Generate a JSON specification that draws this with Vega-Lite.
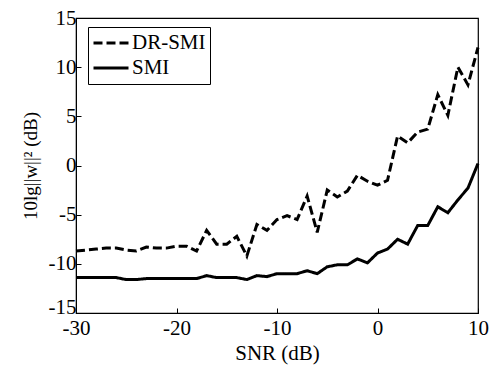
{
  "$schema": "https://vega.github.io/schema/vega-lite/v6.json",
  "width": 402,
  "height": 295,
  "autosize": "none",
  "padding": {"left": 76, "top": 18, "right": 13, "bottom": 55},
  "background": "white",
  "config": {
    "font": "Liberation Serif",
    "axis": {"labelFont": "Liberation Serif", "titleFont": "Liberation Serif"},
    "legend": {"labelFont": "Liberation Serif"},
    "view": {"stroke": "black", "strokeWidth": 1.2}
  },
  "datasets": {
    "dr": [
      {"snr": -30, "v": -8.7}, {"snr": -29, "v": -8.6}, {"snr": -28, "v": -8.5}, {"snr": -27, "v": -8.4},
      {"snr": -26, "v": -8.4}, {"snr": -25, "v": -8.6}, {"snr": -24, "v": -8.7}, {"snr": -23, "v": -8.3},
      {"snr": -22, "v": -8.4}, {"snr": -21, "v": -8.4}, {"snr": -20, "v": -8.2}, {"snr": -19, "v": -8.2},
      {"snr": -18, "v": -8.7}, {"snr": -17, "v": -6.6}, {"snr": -16, "v": -8.0}, {"snr": -15, "v": -8.0},
      {"snr": -14, "v": -7.2}, {"snr": -13, "v": -9.2}, {"snr": -12, "v": -6.0}, {"snr": -11, "v": -6.6},
      {"snr": -10, "v": -5.5}, {"snr": -9, "v": -5.1}, {"snr": -8, "v": -5.5}, {"snr": -7, "v": -3.1},
      {"snr": -6, "v": -6.8}, {"snr": -5, "v": -2.5}, {"snr": -4, "v": -3.2}, {"snr": -3, "v": -2.6},
      {"snr": -2, "v": -1.0}, {"snr": -1, "v": -1.6}, {"snr": 0, "v": -2.0}, {"snr": 1, "v": -1.5},
      {"snr": 2, "v": 3.0}, {"snr": 3, "v": 2.3}, {"snr": 4, "v": 3.4}, {"snr": 5, "v": 3.7},
      {"snr": 6, "v": 7.2}, {"snr": 7, "v": 5.1}, {"snr": 8, "v": 10.0}, {"snr": 9, "v": 8.2},
      {"snr": 10, "v": 12.0}
    ],
    "smi": [
      {"snr": -30, "v": -11.4}, {"snr": -29, "v": -11.4}, {"snr": -28, "v": -11.4}, {"snr": -27, "v": -11.4},
      {"snr": -26, "v": -11.4}, {"snr": -25, "v": -11.6}, {"snr": -24, "v": -11.6}, {"snr": -23, "v": -11.5},
      {"snr": -22, "v": -11.5}, {"snr": -21, "v": -11.5}, {"snr": -20, "v": -11.5}, {"snr": -19, "v": -11.5},
      {"snr": -18, "v": -11.5}, {"snr": -17, "v": -11.2}, {"snr": -16, "v": -11.4}, {"snr": -15, "v": -11.4},
      {"snr": -14, "v": -11.4}, {"snr": -13, "v": -11.6}, {"snr": -12, "v": -11.2}, {"snr": -11, "v": -11.3},
      {"snr": -10, "v": -11.0}, {"snr": -9, "v": -11.0}, {"snr": -8, "v": -11.0}, {"snr": -7, "v": -10.7},
      {"snr": -6, "v": -11.0}, {"snr": -5, "v": -10.3}, {"snr": -4, "v": -10.1}, {"snr": -3, "v": -10.1},
      {"snr": -2, "v": -9.5}, {"snr": -1, "v": -9.9}, {"snr": 0, "v": -8.9}, {"snr": 1, "v": -8.5},
      {"snr": 2, "v": -7.5}, {"snr": 3, "v": -8.0}, {"snr": 4, "v": -6.1}, {"snr": 5, "v": -6.1},
      {"snr": 6, "v": -4.2}, {"snr": 7, "v": -4.8}, {"snr": 8, "v": -3.5}, {"snr": 9, "v": -2.3},
      {"snr": 10, "v": 0.2}
    ]
  },
  "layer": [
    {
      "data": {"name": "dr"},
      "transform": [{"calculate": "'DR-SMI'", "as": "series"}],
      "mark": {"type": "line", "color": "black", "strokeWidth": 3},
      "encoding": {
        "x": {"field": "snr", "type": "quantitative"},
        "y": {"field": "v", "type": "quantitative"},
        "strokeDash": {"field": "series", "type": "nominal"}
      }
    },
    {
      "data": {"name": "smi"},
      "transform": [{"calculate": "'SMI'", "as": "series"}],
      "mark": {"type": "line", "color": "black", "strokeWidth": 3},
      "encoding": {
        "x": {"field": "snr", "type": "quantitative"},
        "y": {"field": "v", "type": "quantitative"},
        "strokeDash": {"field": "series", "type": "nominal"}
      }
    }
  ],
  "resolve": {"scale": {"strokeDash": "shared"}},
  "encoding": {
    "x": {
      "field": "snr", "type": "quantitative",
      "scale": {"domain": [-30, 10], "nice": false, "zero": false},
      "axis": {
        "title": "SNR (dB)", "values": [-30, -20, -10, 0, 10], "grid": false,
        "labelExpr": "replace(format(datum.value, 'd'), '−', '-')",
        "labelFlush": false, "labelOverlap": false,
        "domainColor": "black", "tickColor": "black", "tickSize": -5, "tickWidth": 1,
        "labelFontSize": 21, "labelColor": "black", "labelPadding": 9,
        "titleFontSize": 21, "titleFontWeight": "normal", "titleColor": "black", "titlePadding": 4
      }
    },
    "y": {
      "field": "v", "type": "quantitative",
      "scale": {"domain": [-15, 15], "nice": false, "zero": false},
      "axis": {
        "title": "10lg||w||² (dB)", "values": [-15, -10, -5, 0, 5, 10, 15], "grid": false,
        "labelExpr": "replace(format(datum.value, 'd'), '−', '-')",
        "labelFlush": false, "labelOverlap": false,
        "labelOffset": {"condition": {"test": "datum.value == -15", "value": -6}, "value": 0},
        "domainColor": "black", "tickColor": "black", "tickSize": -5, "tickWidth": 1,
        "labelFontSize": 21, "labelColor": "black", "labelPadding": 5,
        "titleFontSize": 19, "titleFontWeight": "normal", "titleColor": "black", "titlePadding": 8
      }
    },
    "strokeDash": {
      "field": "series", "type": "nominal",
      "scale": {"domain": ["DR-SMI", "SMI"], "range": [[9, 4], [1, 0]]},
      "legend": {
        "title": null, "orient": "none", "legendX": 12, "legendY": 9,
        "strokeColor": "black", "padding": 4, "fillColor": "white",
        "symbolType": "stroke", "symbolSize": 1225, "symbolStrokeWidth": 3, "symbolStrokeColor": "black",
        "clipHeight": 24, "rowPadding": 1,
        "labelFontSize": 21, "labelColor": "black", "labelOffset": 2
      }
    }
  }
}
